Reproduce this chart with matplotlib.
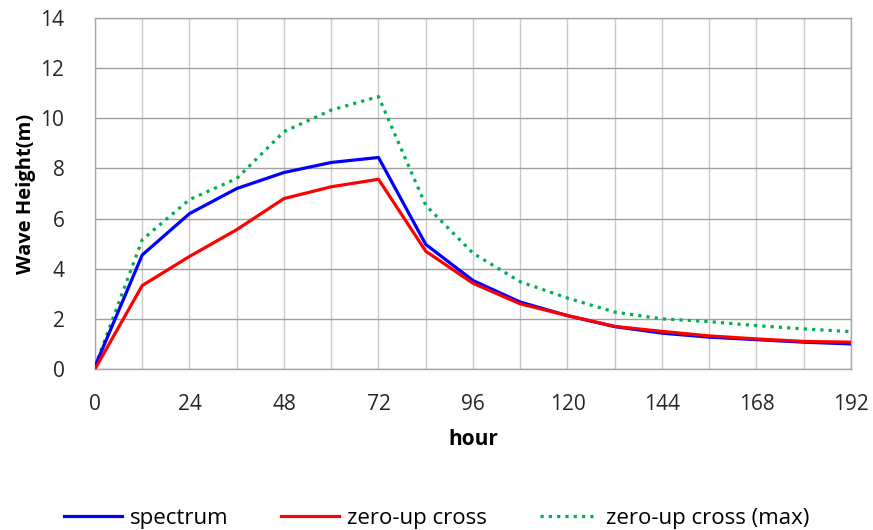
import matplotlib.pyplot as plt
import numpy as np

# data
hours = [0, 12, 24, 36, 48, 60, 72, 84, 96, 108, 120, 132, 144, 156, 168, 180, 192]
spectrum = [0.1, 4.55, 6.2, 7.2, 7.84, 8.24, 8.44, 4.97, 3.53, 2.67, 2.13, 1.69, 1.43, 1.27, 1.17, 1.07, 1.0]
zero_up = [0.0, 3.33, 4.49, 5.56, 6.8, 7.27, 7.57, 4.7, 3.42, 2.6, 2.13, 1.7, 1.5, 1.32, 1.2, 1.1, 1.07]
zero_up_max = [0.1, 5.16, 6.76, 7.6, 9.47, 10.33, 10.87, 6.53, 4.62, 3.48, 2.83, 2.27, 2.0, 1.89, 1.73, 1.6, 1.49]

x_ticks = [0, 24, 48, 72, 96, 120, 144, 168, 192]
y_ticks = [0, 2, 4, 6, 8, 10, 12, 14]

plt.rcParams['font.family'] = ['Open Sans', 'DejaVu Sans']

fig = plt.figure(figsize=(8.73, 5.30), dpi=100)
ax = fig.add_axes([0.1088, 0.3038, 0.866, 0.662])

ax.plot(hours, spectrum, color='#0000FF', lw=2.3, label='spectrum', zorder=3)
ax.plot(hours, zero_up, color='#FF0000', lw=2.3, label='zero-up cross', zorder=4)
ax.plot(hours, zero_up_max, color='#00B050', lw=2.3, linestyle=(0, (1, 1.6)),
        label='zero-up cross (max)', zorder=2)

ax.set_xlim(0, 192)
ax.set_ylim(0, 14)
ax.set_xticks(x_ticks)
ax.set_xticks(np.arange(12, 192, 24), minor=True)
ax.set_yticks(y_ticks)

ax.grid(True, axis='y', which='major', color='#A0A0A0', lw=1.0)
ax.grid(True, axis='x', which='both', color='#C8C8C8', lw=1.0)
ax.set_axisbelow(True)

for s in ax.spines.values():
    s.set_color('#A6A6A6')
    s.set_linewidth(1.0)

ax.tick_params(which='both', length=0, labelsize=15, colors='#262626')
ax.tick_params(axis='x', pad=18)
ax.tick_params(axis='y', pad=22)

ax.set_xlabel('hour', fontsize=15, fontweight='bold', labelpad=10)
ax.set_ylabel('Wave Height(m)', fontsize=14.5, fontweight='bold', labelpad=3)

fig.legend(loc='lower center', ncol=3, frameon=False, fontsize=16,
           bbox_to_anchor=(0.5, -0.035), handlelength=2.6, columnspacing=2.4,
           handletextpad=0.35)

fig.savefig('out.png', dpi=100)
